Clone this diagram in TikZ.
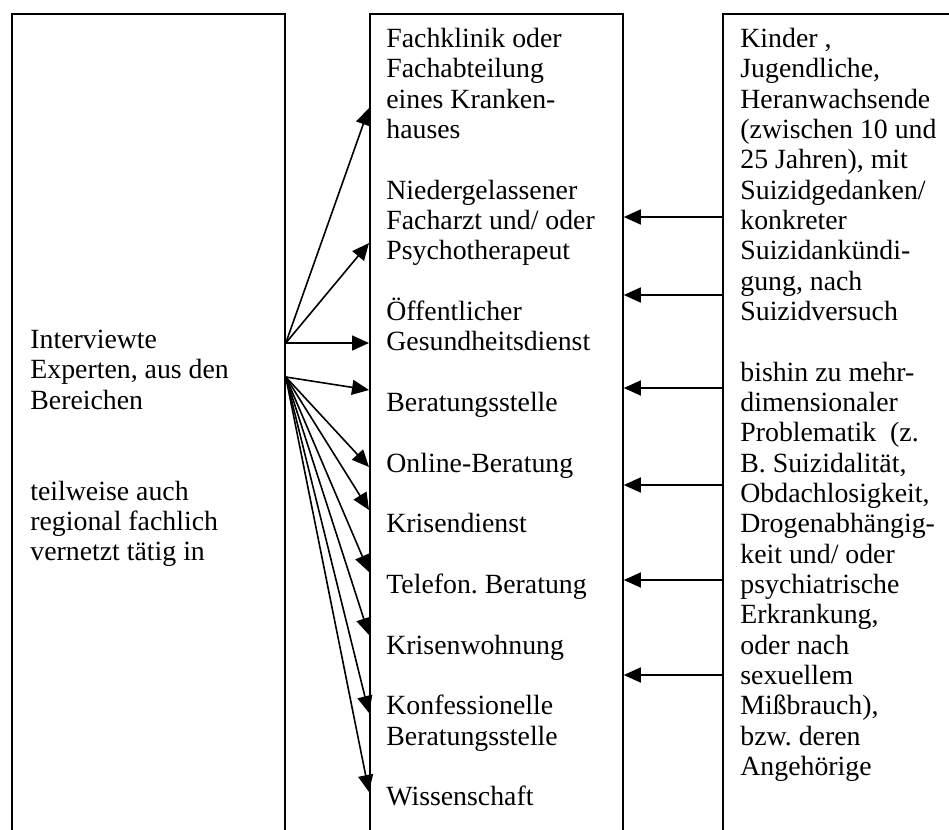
\documentclass[tikz,border=0pt]{standalone}
\usepackage{fontspec}
\setmainfont{Liberation Serif}
\usetikzlibrary{arrows.meta}

\begin{document}
\begin{tikzpicture}[x=0.5pt,y=-0.5pt,
    panel/.style={draw, line width=0.9pt, anchor=north west, inner sep=0pt, minimum height=450pt},
    blocktext/.style={anchor=north west, inner sep=0pt, align=left, font=\fontsize{13.9}{15.17}\selectfont\frenchspacing},
    arr/.style={line width=0.8pt, -{Triangle[length=8.5pt,width=7.5pt]}}]

    % Define the page size
    \useasboundingbox (0,0) rectangle (949,830);
    \clip (0,0) rectangle (949,830);

    % Draw the three boxes (cut off at the page edge)
    \node[panel, minimum width=136.5pt] (experten) at (11,13) {};
    \node[panel, minimum width=126.5pt] (einrichtungen) at (369,13) {};
    \node[panel, minimum width=150pt] (klienten) at (722,13) {};

    % Texts of the boxes
    \node[blocktext] (expertenText) at (30,326.8) {\strut Interviewte\\
        Experten, aus den\\
        Bereichen\\[30.34pt]
        teilweise auch\\
        regional fachlich\\
        vernetzt tätig in};

    \node[blocktext] (einrichtungenText) at (386,25.8) {\strut Fachklinik oder\\
        Fachabteilung\\
        eines Kranken-\\
        hauses\\[15.17pt]
        Niedergelassener\\
        Facharzt und/ oder\\
        Psychotherapeut\\[15.17pt]
        Öffentlicher\\
        Gesundheitsdienst\\[15.17pt]
        Beratungsstelle\\[15.17pt]
        Online-Beratung\\[15.17pt]
        Krisendienst\\[15.17pt]
        Telefon. Beratung\\[15.17pt]
        Krisenwohnung\\[15.17pt]
        Konfessionelle\\
        Beratungsstelle\\[15.17pt]
        Wissenschaft};

    \node[blocktext] (klientenText) at (740,25.8) {\strut Kinder ,\\
        Jugendliche,\\
        Heranwachsende\\
        (zwischen 10 und\\
        25 Jahren), mit\\
        Suizidgedanken/\\
        konkreter\\
        Suizidankündi-\\
        gung, nach\\
        Suizidversuch\\[15.17pt]
        bishin zu mehr-\\
        dimensionaler\\
        Problematik\ \ (z.\\
        B. Suizidalität,\\
        Obdachlosigkeit,\\
        Drogenabhängig-\\
        keit und/ oder\\
        psychiatrische\\
        Erkrankung,\\
        oder nach\\
        sexuellem\\
        Mißbrauch),\\
        bzw. deren\\
        Angehörige};

    % Arrows from the experts to the institutions
    \foreach \ty in {108,243,343}
        \draw[arr] (experten.east |- 0,343) -- (einrichtungen.west |- 0,\ty);
    \foreach \ty in {390,467,510,572,635,713,792}
        \draw[arr] (experten.east |- 0,377) -- (einrichtungen.west |- 0,\ty);

    % Arrows from the clients to the institutions
    \foreach \ty in {217,295,388,485,580,675}
        \draw[arr] (klienten.west |- 0,\ty) -- (einrichtungen.east |- 0,\ty);

\end{tikzpicture}
\end{document}
